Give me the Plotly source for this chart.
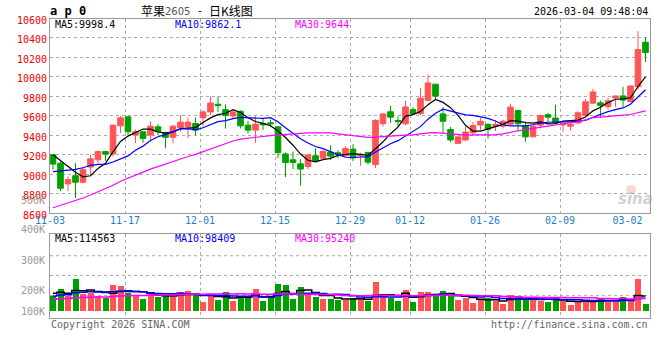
import pandas as pd
import plotly.graph_objects as go

# ---------------- data ----------------
holidays = ["2026-01-01", "2026-01-02", "2026-02-16", "2026-02-17", "2026-02-18",
            "2026-02-19", "2026-02-20", "2026-02-23"]
dates = [d for d in pd.bdate_range("2025-11-03", "2026-03-04")
         if d.strftime("%Y-%m-%d") not in holidays]

opens = [9200, 9115, 8902, 8986, 8919, 9075, 9149, 9234, 9210, 9498,
         9590, 9403, 9437, 9403, 9488, 9430, 9380, 9481, 9488, 9522,
         9580, 9641, 9719, 9664, 9600, 9647, 9505, 9454, 9522, 9529,
         9488, 9210, 9149, 9108, 9081, 9190, 9166, 9230, 9221, 9190,
         9259, 9190, 9225, 9100, 9520, 9642, 9553, 9520, 9665, 9624,
         9760, 9925, 9620, 9461, 9318, 9353, 9427, 9506, 9513, 9495,
         9495, 9515, 9655, 9500, 9385, 9505, 9612, 9578, 9508, 9495,
         9528, 9604, 9731, 9734, 9695, 9785, 9805, 9748, 9900, 10356]
highs = [9205, 9132, 8980, 9115, 9075, 9200, 9244, 9241, 9510, 9600,
         9595, 9461, 9447, 9546, 9515, 9437, 9505, 9607, 9583, 9583,
         9658, 9803, 9800, 9719, 9664, 9658, 9549, 9597, 9573, 9563,
         9495, 9224, 9234, 9156, 9200, 9268, 9251, 9298, 9247, 9291,
         9310, 9222, 9230, 9565, 9629, 9703, 9595, 9756, 9689, 9886,
         10025, 9931, 9690, 9486, 9388, 9491, 9540, 9578, 9525, 9553,
         9560, 9725, 9658, 9540, 9500, 9615, 9632, 9714, 9535, 9530,
         9648, 9773, 9877, 9756, 9785, 9806, 9898, 9915, 10470, 10405]
lows = [9048, 8827, 8827, 8756, 8905, 8980, 9115, 9139, 9183, 9427,
        9403, 9319, 9325, 9352, 9403, 9268, 9319, 9437, 9370, 9403,
        9495, 9607, 9641, 9471, 9566, 9471, 9420, 9325, 9454, 9488,
        9166, 8973, 9054, 8885, 9054, 9132, 9149, 9147, 9164, 9180,
        9136, 9088, 9100, 9064, 9489, 9528, 9495, 9506, 9612, 9607,
        9752, 9763, 9422, 9330, 9316, 9343, 9393, 9456, 9367, 9445,
        9470, 9505, 9435, 9334, 9382, 9470, 9535, 9520, 9437, 9450,
        9516, 9598, 9724, 9582, 9666, 9694, 9688, 9740, 9870, 10152]
closes = [9105, 8857, 8946, 8919, 9047, 9159, 9234, 9207, 9505, 9580,
          9437, 9437, 9369, 9495, 9437, 9380, 9495, 9536, 9536, 9454,
          9641, 9732, 9705, 9603, 9641, 9498, 9454, 9515, 9508, 9519,
          9224, 9122, 9122, 9054, 9200, 9142, 9234, 9187, 9207, 9264,
          9170, 9202, 9125, 9553, 9620, 9587, 9541, 9692, 9625, 9782,
          9938, 9803, 9545, 9353, 9385, 9434, 9501, 9545, 9464, 9513,
          9545, 9690, 9520, 9385, 9494, 9604, 9587, 9531, 9520, 9515,
          9632, 9745, 9846, 9705, 9755, 9805, 9762, 9906, 10282, 10250]
volumes_k = [115, 169, 118, 246, 131, 141, 115, 100, 200, 192,
             141, 118, 92, 146, 110, 118, 110, 146, 154, 131,
             69, 118, 85, 146, 79, 102, 115, 169, 77, 100,
             208, 200, 92, 185, 123, 108, 92, 92, 85, 88,
             102, 102, 77, 226, 123, 98, 77, 162, 69, 146,
             146, 115, 154, 115, 85, 98, 64, 92, 98, 77,
             56, 123, 115, 92, 98, 77, 72, 102, 77, 46,
             72, 85, 85, 92, 72, 72, 110, 92, 246, 54]

# sessions before 11-03 (only used to start the moving averages)
prior_closes = [8150, 8180, 8200, 8230, 8260, 8290, 8300, 8330, 8350, 8420,
                8480, 8530, 8580, 8620, 8650, 8700, 8730, 8780, 8820, 8840,
                8800, 8830, 8850, 8880, 8910, 9150, 9200, 9260, 9286]
prior_volumes_k = [60, 65, 70, 72, 68, 75, 80, 78, 70, 74,
                   82, 85, 80, 78, 84, 88, 90, 86, 82, 83,
                   88, 92, 95, 97, 98, 130, 150, 145, 140]

tick_dates = ["11-03", "11-17", "12-01", "12-15", "12-29", "01-12", "01-26", "02-09", "03-02"]
grid_dates = ["11-17", "12-01", "12-15", "12-29", "01-12", "01-26", "02-09"]
price_ticks = [8600, 8800, 9000, 9200, 9400, 9600, 9800, 10000, 10200, 10400, 10600]
vol_labels = ["500K", "400K", "300K", "200K", "100K"]

symbol = "a p 0"
title_name = "苹果"
title_code = "2605"
title_kind = "日K线图"
stamp = "2026-03-04 09:48:04"
ma_price_text = ["MA5:9998.4", "MA10:9862.1", "MA30:9644"]
ma_vol_text = ["MA5:114563", "MA10:98409", "MA30:95240"]

# ---------------- derived ----------------
n = len(closes)
idx = list(range(n))
labels = [d.strftime("%m-%d") for d in dates]
vols = [v * 1000 for v in volumes_k]
npre = len(prior_closes)
cs = pd.Series(prior_closes + closes)
vs = pd.Series([v * 1000 for v in prior_volumes_k] + vols)
ma = {k: cs.rolling(k).mean().iloc[npre:].tolist() for k in (5, 10, 30)}
vma = {k: vs.rolling(k).mean().iloc[npre:].tolist() for k in (5, 10, 30)}

UP = "#ff5454"
DN = "#00a000"
MA_COL = {5: "#000000", 10: "#0000ff", 30: "#ff00ff"}
GRID = "#aaaaaa"
BORDER = "#999999"
MONO = "DejaVu Sans Mono"
W, H = 660, 360
XL, XR = 50, 650
P_TOP, P_BOT = 18.5, 213.3
V_TOP, V_BOT = 234.3, 318.3


def px(x):
    return x / W


def py(y):
    return 1 - y / H


x_range = [-0.4, n - 0.4]
grid_x = [labels.index(d) - 0.4 for d in grid_dates]
label_x = [min(labels.index(d) - 0.4, n - 2.4) for d in tick_dates]

fig = go.Figure()
fig.add_trace(go.Candlestick(
    x=idx, open=opens, high=highs, low=lows, close=closes,
    increasing=dict(line=dict(color=UP, width=1), fillcolor=UP),
    decreasing=dict(line=dict(color=DN, width=1), fillcolor=DN),
    whiskerwidth=0, hoverinfo="skip", xaxis="x", yaxis="y"))
for k in (5, 10, 30):
    fig.add_trace(go.Scatter(x=idx, y=ma[k], mode="lines",
                             line=dict(color=MA_COL[k], width=1.2),
                             hoverinfo="skip", xaxis="x", yaxis="y"))
fig.add_trace(go.Bar(x=idx, y=vols, width=0.8,
                     marker=dict(color=[UP if c >= o else DN for o, c in zip(opens, closes)],
                                 line=dict(width=0)),
                     hoverinfo="skip", xaxis="x2", yaxis="y2"))
for k in (5, 10, 30):
    fig.add_trace(go.Scatter(x=idx, y=vma[k], mode="lines", line_shape="hvh",
                             line=dict(color=MA_COL[k], width=1.5),
                             hoverinfo="skip", xaxis="x2", yaxis="y2"))
# label-only overlay axis for the dates
fig.add_trace(go.Scatter(x=[None], y=[None], xaxis="x3", yaxis="y", showlegend=False))

axis_common = dict(showline=True, mirror=True, linecolor=BORDER, linewidth=1,
                   zeroline=False, fixedrange=True, automargin=False)

fig.update_layout(
    width=W, height=H, autosize=False, margin=dict(l=0, r=0, t=0, b=0, pad=0),
    paper_bgcolor="white", plot_bgcolor="white", showlegend=False,
    boxgap=0.25, boxgroupgap=0, bargap=0,
    xaxis=dict(domain=[px(XL), px(XR)], range=x_range, anchor="y",
               tickmode="array", tickvals=grid_x, showticklabels=False, ticks="",
               showgrid=True, gridcolor=GRID, griddash="dot", gridwidth=1,
               rangeslider=dict(visible=False), **axis_common),
    xaxis3=dict(domain=[px(XL), px(XR)], range=x_range, anchor="y", overlaying="x",
                side="bottom", tickmode="array", tickvals=label_x, ticktext=tick_dates,
                showgrid=False, zeroline=False, showline=False, ticks="", automargin=False,
                tickfont=dict(family=MONO, size=10, color="#1f7fc4"), fixedrange=True),
    yaxis=dict(domain=[py(P_BOT), py(P_TOP)], range=[price_ticks[0], price_ticks[-1]],
               tickmode="array", tickvals=price_ticks, ticktext=[str(t) for t in price_ticks],
               ticks="", ticklabelshift=2,
               tickfont=dict(family=MONO, size=10, color="#ee0000"),
               showgrid=True, gridcolor=GRID, griddash="dot", gridwidth=1, **axis_common),
    xaxis2=dict(domain=[px(XL), px(XR)], range=x_range, anchor="y2",
                tickmode="array", tickvals=grid_x, showticklabels=False, ticks="",
                showgrid=True, gridcolor=GRID, griddash="dot", gridwidth=1, **axis_common),
    yaxis2=dict(domain=[py(V_BOT), py(V_TOP)], range=[-56000, 590000],
                showticklabels=False, showgrid=False, ticks="", **axis_common),
)

shapes = []
for f in (0.27, 0.51, 0.745):
    shapes.append(dict(type="line", xref="x2 domain", yref="y2 domain", x0=0, x1=1, y0=f, y1=f,
                       line=dict(color=GRID, width=1, dash="dot"), layer="below"))
shapes.append(dict(type="circle", xref="paper", yref="paper",
                   x0=px(626), x1=px(636), y0=py(194), y1=py(185),
                   fillcolor="rgba(240,140,140,0.35)", line=dict(width=0)))
fig.update_layout(shapes=shapes)

ann = []


def text(x, y, s, color="#000", size=10, family=MONO, anchor="left", **kw):
    ann.append(dict(x=px(x), y=py(y), xref="paper", yref="paper", text=s, showarrow=False,
                    xanchor=anchor, yanchor="middle",
                    font=dict(family=family, size=size, color=color), **kw))


text(48, 10.5, "<b>" + symbol + "</b>", size=12)
text(139, 10.5, title_name, size=12, family="Noto Sans CJK SC")
text(163, 11, title_code, color="#555", size=10, family="DejaVu Sans")
text(195, 10.5, "-", size=10)
text(207, 10.5, title_kind, size=12, family="Noto Sans CJK SC")
text(650, 11, stamp, anchor="right")
for t, xx, k in zip(ma_price_text, (53, 173, 293), (5, 10, 30)):
    text(xx, 24.5, t, color=MA_COL[k])
for t, xx, k in zip(ma_vol_text, (53, 173, 293), (5, 10, 30)):
    text(xx, 238.5, t, color=MA_COL[k])
for t, yy in zip(vol_labels, (200, 230, 260, 290.5, 311.5)):
    text(47, yy, t, color="#999999", anchor="right")
text(49, 324.5, "Copyright 2026 SINA.COM", color="#666666")
text(650, 324.5, "http://finance.sina.com.cn", color="#666666", anchor="right")
text(635, 199, "<b><i>sina</i></b>", color="rgba(170,170,170,0.55)", size=15, family="DejaVu Sans",
     anchor="center")
fig.update_layout(annotations=ann)

fig.write_html("out.html", config={"displayModeBar": False, "staticPlot": True},
               post_script="document.body.style.margin='0';document.body.style.overflow='hidden';")
